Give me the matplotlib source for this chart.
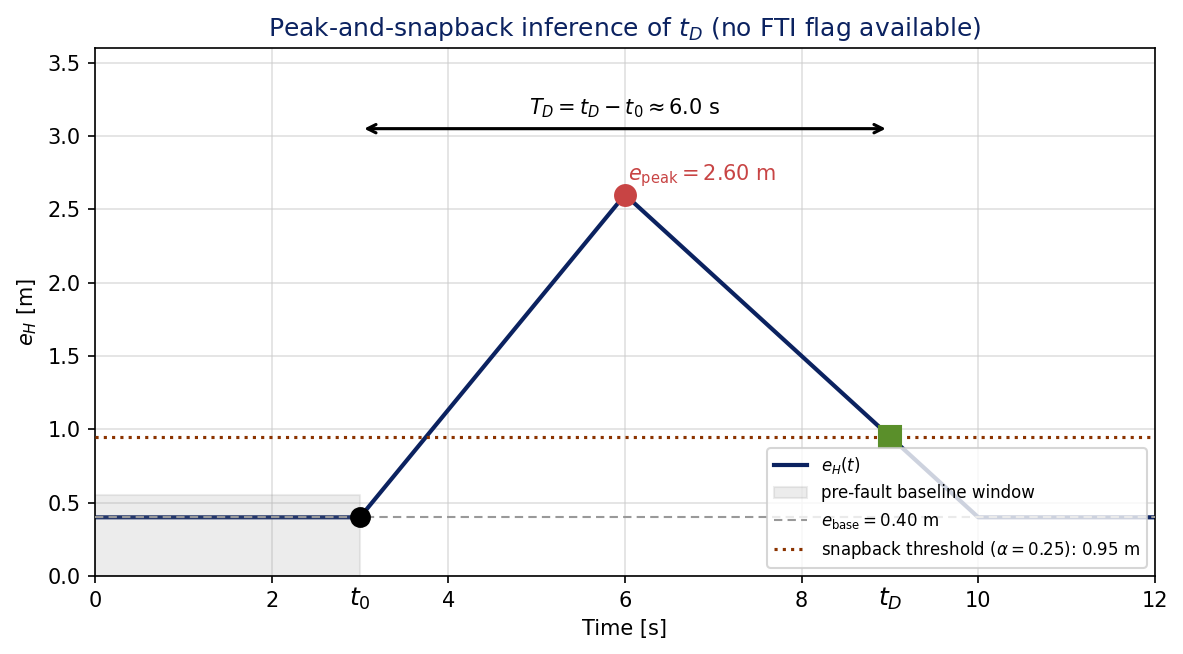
import numpy as np
import matplotlib
matplotlib.use("Agg")
from matplotlib import pyplot as plt
from matplotlib.patches import Patch
from matplotlib.lines import Line2D

# signal breakpoints
t_pts = [0.0, 3.0, 6.0, 10.0, 12.0]
e_pts = [0.40, 0.40, 2.60, 0.40, 0.40]

t0 = 3.0
t_peak = 6.0
e_peak = 2.60
e_base = 0.40
alpha_snap = 0.25
e_thr = 0.95
tD = 9.0
win_top = 0.55

navy = "#0b2260"
red = "#c84444"
green = "#5a8f2a"
brown = "#8b3300"

fig = plt.figure(figsize=(1183 / 150, 654 / 150), dpi=150)
ax = fig.add_axes([0.0803, 0.1193, 0.896, 0.8073])

ax.plot(t_pts, e_pts, color=navy, lw=2.0, zorder=2)
ax.fill_between([0, t0], 0, win_top, color="#999999", alpha=0.18, lw=1, zorder=2.5)
ax.axhline(e_base, color="#999999", ls="--", lw=1.0, dashes=(4, 2.5), zorder=3)
ax.axhline(e_thr, color=brown, ls=":", lw=1.5, zorder=3)

ax.plot([t0], [e_base], "o", color="black", ms=9, zorder=5)
ax.plot([t_peak], [e_peak], "o", color=red, ms=10, zorder=5)
ax.plot([tD], [e_thr], "s", color=green, ms=11, zorder=5)

ax.text(t_peak + 0.03, e_peak + 0.04, r"$e_{\mathrm{peak}} = 2.60$ m", color=red,
        fontsize=10, ha="left", va="bottom")

ax.annotate("", xy=(tD, 3.05), xytext=(t0, 3.05),
            arrowprops=dict(arrowstyle="<->", color="black", lw=1.5))
ax.text((t0 + tD) / 2, 3.11, r"$T_D = t_D - t_0 \approx 6.0$ s", ha="center",
        va="bottom", fontsize=10)

ax.set_xlim(0, 12)
ax.set_ylim(0, 3.6)
ax.set_xticks([0, 2, 4, 6, 8, 10, 12])
ax.set_yticks(np.arange(0, 3.51, 0.5))
ax.grid(True, color="#cccccc", alpha=0.6, lw=0.8)
ax.set_axisbelow(True)
ax.tick_params(labelsize=10)

ax.text(t0, -0.018, r"$t_0$", ha="center", va="top", fontsize=12,
        transform=ax.get_xaxis_transform())
ax.text(tD, -0.018, r"$t_D$", ha="center", va="top", fontsize=12,
        transform=ax.get_xaxis_transform())

ax.set_xlabel("Time [s]", fontsize=10)
ax.set_ylabel(r"$e_H$ [m]", fontsize=10)
ax.set_title(r"Peak-and-snapback inference of $t_D$ (no FTI flag available)",
             color=navy, fontsize=12)

handles = [
    Line2D([], [], color=navy, lw=2.0),
    Patch(facecolor="#999999", alpha=0.18, edgecolor="#999999"),
    Line2D([], [], color="#999999", ls="--", lw=1.0, dashes=(4, 2.5)),
    Line2D([], [], color=brown, ls=":", lw=1.5),
]
labels = [
    r"$e_H(t)$",
    "pre-fault baseline window",
    r"$e_{\mathrm{base}} = 0.40$ m",
    r"snapback threshold ($\alpha = 0.25$): 0.95 m",
]
leg = ax.legend(handles, labels, loc="lower right", fontsize=8, framealpha=0.8)
leg.set_zorder(6)

fig.savefig("out.png", dpi=150)
